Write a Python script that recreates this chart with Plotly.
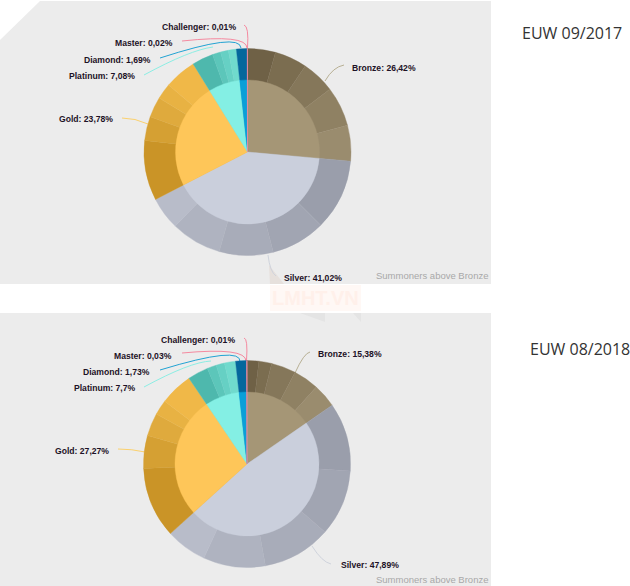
import plotly.graph_objects as go

W, H = 630, 586

tiers = ["Bronze", "Silver", "Gold", "Platinum", "Diamond", "Master", "Challenger"]
share_2017 = [26.42, 41.02, 23.78, 7.08, 1.69, 0.02, 0.01]
share_2018 = [15.38, 47.89, 27.27, 7.70, 1.73, 0.03, 0.01]
share_text_2017 = ["26,42", "41,02", "23,78", "7,08", "1,69", "0,02", "0,01"]
share_text_2018 = ["15,38", "47,89", "27,27", "7,7", "1,73", "0,03", "0,01"]

bronze_2017 = [4.36, 5.06, 5.22, 6.19, 5.59]
silver_2017 = [11.08, 8.50, 8.42, 7.89, 5.13]
gold_2017 = [9.36, 3.75, 3.19, 2.47, 5.01]
platinum_2017 = [3.31, 1.30, 1.22, 1.25]
bronze_2018 = [1.83, 2.00, 3.86, 3.97, 3.72]
silver_2018 = [10.69, 10.36, 10.72, 9.69, 6.43]
gold_2018 = [11.06, 5.11, 3.58, 2.36, 5.16]
platinum_2018 = [3.22, 1.44, 1.31, 1.73]

inner_colors = ["#a59676", "#cacfdc", "#fec659", "#84efe4", "#0a9fd8", "#f58aa0", "#f58aa0"]
bronze_colors = ["#6f6146", "#7b6d50", "#85775a", "#8f8163", "#9a8c6e"]
silver_colors = ["#9a9eab", "#a1a5b2", "#a8acb9", "#afb3c0", "#b8bcc9"]
gold_colors = ["#ca9427", "#d5a033", "#dfaa3d", "#e8b243", "#f0b848"]
platinum_colors = ["#4eb8ad", "#5cc6ba", "#66d0c4", "#70dacd"]
top_colors = ["#04679c", "#f58aa0", "#f58aa0"]

line_colors = ["#b8b094", "#cfd3dc", "#fbd16e", "#8ceee4", "#22a3d3", "#f58aa0", "#f58aa0"]


def X(px):
    return px / W


def Y(py):
    return 1 - py / H


def add_pies(fig, cx, cy, shares, br, si, go_, pl):
    r_out, r_in = 103.5, 72
    outer = br + si + go_ + pl + shares[4:]
    outer_colors = bronze_colors + silver_colors + gold_colors + platinum_colors + top_colors
    for vals, cols, r in ((outer, outer_colors, r_out), (shares, inner_colors, r_in)):
        fig.add_trace(go.Pie(
            values=vals, sort=False, direction="clockwise", rotation=0,
            marker=dict(colors=cols, line=dict(width=0.4, color=cols)),
            textinfo="none", hoverinfo="skip", showlegend=False,
            domain=dict(x=[X(cx - r), X(cx + r)], y=[Y(cy + r), Y(cy - r)]),
        ))


def polygon(pts, color):
    d = "M " + " L ".join(f"{X(a)} {Y(b)}" for a, b in pts) + " Z"
    return dict(type="path", path=d, xref="paper", yref="paper",
                fillcolor=color, line=dict(width=0), layer="below")


def leader(pts, color):
    (a, b, c) = pts
    d = f"M {X(a[0])} {Y(a[1])} Q {X(b[0])} {Y(b[1])} {X(c[0])} {Y(c[1])}"
    return dict(type="path", path=d, xref="paper", yref="paper",
                line=dict(color=color, width=1), layer="below")


def label(text, x, y, anchor, size=8.6, color="#1d1226", bold=True, family="Liberation Sans"):
    t = f"<b>{text}</b>" if bold else text
    return dict(text=t, x=X(x), y=Y(y), xref="paper", yref="paper", xanchor=anchor, yanchor="middle",
                showarrow=False, borderpad=0, borderwidth=0,
                font=dict(size=size, color=color, family=family))


leaders_2017 = [
    [(325, 81), (333, 67), (344, 65)],
    [(268, 255), (270, 272), (276, 276)],
    [(122, 118), (135, 118), (148, 124)],
    [(144, 75), (190, 50), (213, 47)],
    [(160, 58), (240, 32), (241, 48)],
    [(182, 41), (247, 34), (247, 48)],
    [(244, 25), (249, 26), (247.5, 48)],
]
leaders_2018 = [
    [(295, 373), (304, 353), (310, 352)],
    [(312, 546), (322, 562), (331, 564)],
    [(118, 449), (132, 449), (145, 452)],
    [(144, 387), (190, 362), (211, 361)],
    [(160, 370), (242, 345), (240, 362)],
    [(182, 353), (246, 347), (246, 361)],
    [(244, 338), (248, 338), (246.5, 361)],
]
labels_2017 = [(352, 68, "left"), (284, 277.5, "left"), (113, 119, "right"), (135, 76, "right"),
               (151, 59.5, "right"), (173, 43.5, "right"), (235.5, 27, "right")]
labels_2018 = [(318, 353.5, "left"), (341, 565, "left"), (109, 451, "right"), (135, 388, "right"),
               (150, 372, "right"), (172, 356, "right"), (235, 339.5, "right")]

fig = go.Figure()
add_pies(fig, 247.5, 152, share_2017, bronze_2017, silver_2017, gold_2017, platinum_2017)
add_pies(fig, 247, 464, share_2018, bronze_2018, silver_2018, gold_2018, platinum_2018)

shapes = [
    polygon([(40, 1), (491, 1), (491, 284), (0, 284), (0, 40)], "#ececec"),
    polygon([(0, 313), (491, 313), (491, 586), (0, 586)], "#ececec"),
    polygon([(270, 285), (361, 285), (361, 311), (270, 311)], "#fff8f5"),
    polygon([(300, 313), (325, 313), (325, 322)], "#e4e4e4"),
    polygon([(353, 313), (361, 313), (361, 322)], "#e4e4e4"),
    polygon([(270, 284), (284, 284), (269, 265)], "#e6e0dc"),
]
for pts, col in zip(leaders_2017 + leaders_2018, line_colors + line_colors):
    shapes.append(leader(pts, col))

annotations = []
for (x, y, a), n, s in zip(labels_2017, tiers, share_text_2017):
    annotations.append(label(f"{n}: {s}%", x, y, a))
for (x, y, a), n, s in zip(labels_2018, tiers, share_text_2018):
    annotations.append(label(f"{n}: {s}%", x, y, a))
annotations.append(label("Summoners above Bronze", 488, 275.5, "right", size=9.5, color="#a8a8a8", bold=False))
annotations.append(label("Summoners above Bronze", 488, 579.5, "right", size=9.5, color="#a8a8a8", bold=False))
annotations.append(label("EUW 09/2017", 572, 33, "center", size=16, color="#333333", bold=False, family="Open Sans"))
annotations.append(label("EUW 08/2018", 580, 349, "center", size=16, color="#333333", bold=False, family="Open Sans"))
annotations.append(label("LMHT.VN", 315, 298, "center", size=20, color="#fff0ea", bold=True))

fig.update_layout(width=W, height=H, margin=dict(l=0, r=0, t=0, b=0), paper_bgcolor="white",
                  plot_bgcolor="white", shapes=shapes, annotations=annotations)
fig.write_html("out.html", config={"displayModeBar": False},
               post_script="document.body.style.margin='0';document.body.style.overflow='hidden';")
